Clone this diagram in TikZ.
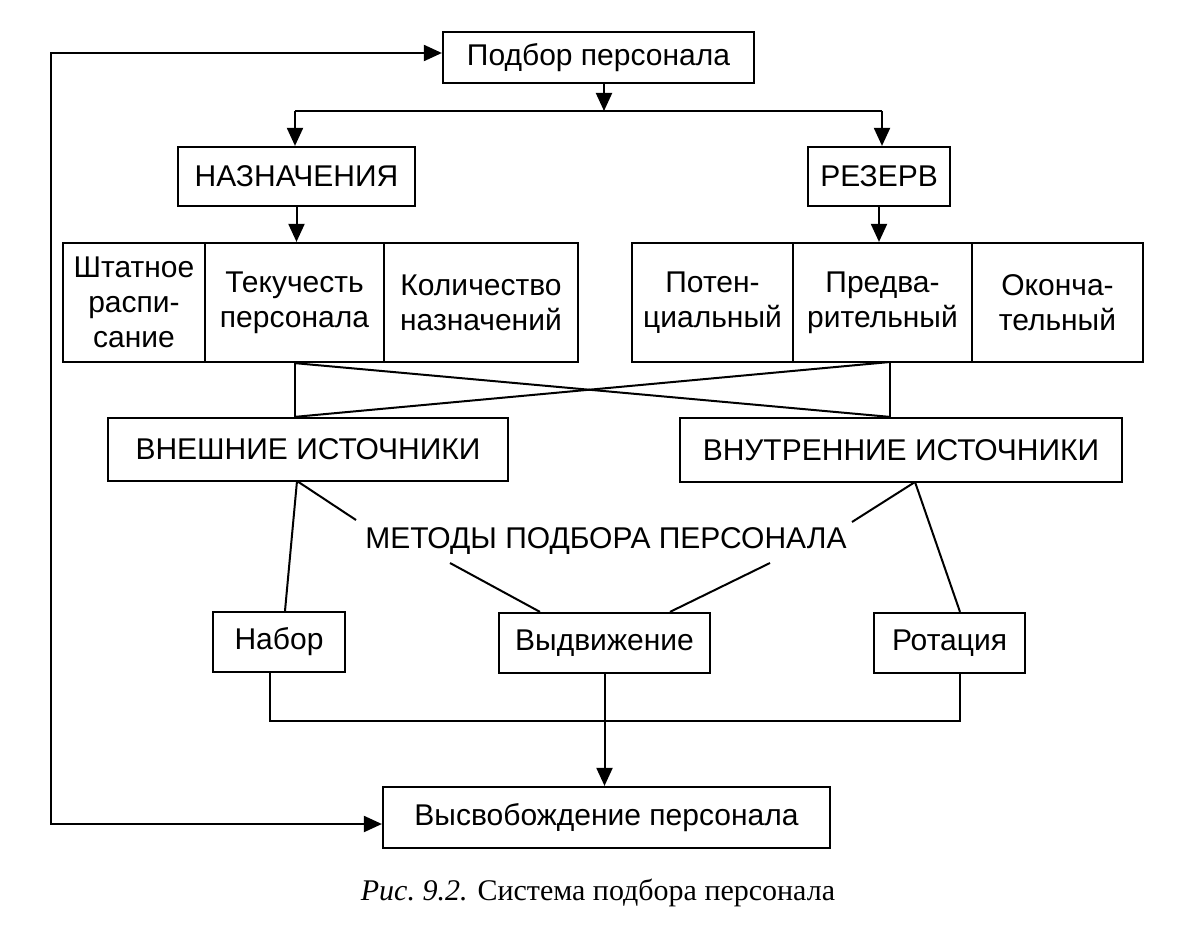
\documentclass[tikz,border=0pt]{standalone}
\usepackage{fontspec}
\setmainfont{Liberation Sans}
\newfontfamily\capfont{Liberation Serif}
\usetikzlibrary{arrows.meta}
\newcommand\fs{\fontsize{15}{17.5}\selectfont}
\begin{document}
\begin{tikzpicture}[x=0.5pt,y=-0.5pt,
  box/.style={draw, line width=1.1pt, inner sep=0pt, align=center, font=\fs},
  ln/.style={line width=1pt},
  tip/.tip={Triangle[length=9pt,width=8pt]},
  arr/.style={ln, -tip}]
\useasboundingbox (0,0) rectangle (1200,931);
\fill[white] (0,0) rectangle (1200,931);

% nodes
\node[box, minimum width=155.5pt, minimum height=25.5pt] (top) at (598.5,57.5) {Подбор персонала};
\node[box, minimum width=118.5pt, minimum height=29.5pt] (naz) at (296.5,176.5) {НАЗНАЧЕНИЯ};
\node[box, minimum width=71pt, minimum height=29.5pt] (rez) at (879,176.5) {РЕЗЕРВ};

\node[box, minimum width=71pt, minimum height=59.5pt] (c1) at (134,302.5) {Штатное\\распи-\\сание};
\node[box, minimum width=89.5pt, minimum height=59.5pt] (c2) at (294.5,302.5) {Текучесть\\персонала};
\node[box, minimum width=97pt, minimum height=59.5pt] (c3) at (481,302.5) {Количество\\назначений};

\node[box, minimum width=80.5pt, minimum height=59.5pt] (d1) at (712.5,302.5) {Потен-\\циальный};
\node[box, minimum width=89.5pt, minimum height=59.5pt] (d2) at (882.5,302.5) {Предва-\\рительный};
\node[box, minimum width=85.5pt, minimum height=59.5pt] (d3) at (1057.5,302.5) {Оконча-\\тельный};

\node[box, minimum width=200pt, minimum height=31.5pt] (vnesh) at (308,449.5) {ВНЕШНИЕ ИСТОЧНИКИ};
\node[box, minimum width=221pt, minimum height=32pt] (vnutr) at (901,450) {ВНУТРЕННИЕ ИСТОЧНИКИ};

\node[font=\fs, inner sep=0pt] (met) at (606,541) {МЕТОДЫ ПОДБОРА ПЕРСОНАЛА};

\node[box, minimum width=66pt, minimum height=30pt] (nabor) at (279,642) {Набор};
\node[box, minimum width=105.5pt, minimum height=30pt] (vydv) at (604.5,643) {Выдвижение};
\node[box, minimum width=75.5pt, minimum height=30pt] (rot) at (949.5,643) {Ротация};

\node[box, minimum width=223.5pt, minimum height=30.5pt] (vysv) at (606.5,817.5) {Высвобождение персонала};

\node[inner sep=0pt] (cap) at (598,893) {\capfont\fontsize{15}{18}\selectfont\textit{Рис.~9.2.} Система подбора персонала};

% coordinates
\coordinate (sp) at (604,111);
\coordinate (sl) at (295,111);
\coordinate (sr) at (882,111);
\coordinate (rb) at (890,362);
\coordinate (vb1) at (297,481);
\coordinate (vb2) at (915,482);
\coordinate (m1) at (356,520);
\coordinate (m2) at (852,522);
\coordinate (m3) at (450,563);
\coordinate (m4) at (770,563);
\coordinate (bj) at (604.5,721);
\coordinate (fbt) at (51,53);
\coordinate (fbb) at (51,824);

% connectors
\draw[arr] (top.south -| sp) -- (sp);
\draw[ln] (sl) -- (sr);
\draw[arr] (sl) -- (sl |- naz.north);
\draw[arr] (sr) -- (sr |- rez.north);
\draw[arr] (naz.south) -- (naz.south |- c2.north);
\draw[arr] (rez.south) -- (rez.south |- d2.north);

\draw[ln] (c2.south) -- (c2.south |- vnesh.north);
\draw[ln] (rb) -- (rb |- vnutr.north);
\draw[ln] (c2.south) -- (rb |- vnutr.north);
\draw[ln] (rb) -- (c2.south |- vnesh.north);

\draw[ln] (vb1) -- (m1);
\draw[ln] (vb1) -- ([xshift=3pt]nabor.north);
\draw[ln] (vb2) -- (m2);
\draw[ln] (vb2) -- ([xshift=5.25pt]rot.north);
\draw[ln] (m3) -- ([xshift=-32.25pt]vydv.north);
\draw[ln] (m4) -- ([xshift=32.75pt]vydv.north);

\draw[ln] ([xshift=-4.5pt]nabor.south) |- (bj) -| ([xshift=5.25pt]rot.south);
\draw[arr] (vydv.south) -- (vydv.south |- vysv.north);

\draw[ln, tip-tip] (top.west |- fbt) -- (fbt) -- (fbb) -- (vysv.west |- fbb);
\end{tikzpicture}
\end{document}
